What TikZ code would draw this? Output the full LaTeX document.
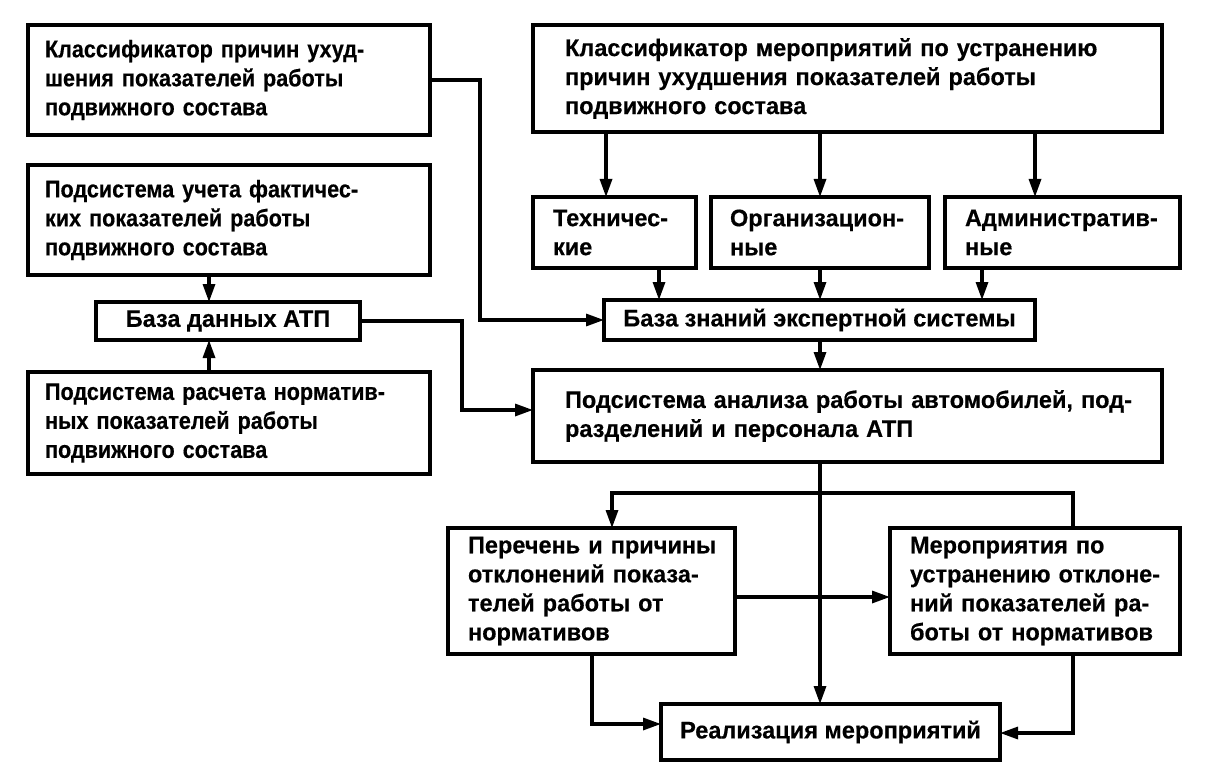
\documentclass[tikz,border=0pt]{standalone}
\usepackage{fontspec}
\setmainfont{Liberation Sans}[BoldFeatures={FakeBold=0.4}]
\newfontfamily\fontL{Liberation Sans}[FakeStretch=0.90, BoldFeatures={FakeBold=0.4}]
\newfontfamily\fontR{Liberation Sans}[FakeStretch=0.98, BoldFeatures={FakeBold=0.4}]
\usetikzlibrary{arrows.meta,calc}
\begin{document}
\begin{tikzpicture}[x=1pt,y=-1pt,
  box/.style={draw, line width=3.4pt, anchor=north west, outer sep=0pt,
    inner ysep=0pt, align=left, font=\fontR\fontsize{24}{29}\selectfont\bfseries},
  lbox/.style={box, font=\fontL\fontsize{24}{29}\selectfont\bfseries},
  cbox/.style={draw, line width=3.4pt, anchor=north west, outer sep=0pt,
    inner sep=0pt, align=center, font=\fontR\fontsize{24}{29}\selectfont\bfseries},
  arr/.style={line width=3.2pt, -{Triangle[length=18pt,width=12pt]}},
  ln/.style={line width=3.2pt}]
\fill[white] (0,0) rectangle (1223,770);
\useasboundingbox (0,0) rectangle (1223,770);

% left column
\node[lbox, minimum width=402pt, minimum height=110pt, text width=368pt, inner xsep=17pt] (A) at (28,25)
  {\mbox{Классификатор причин ухуд-}\\\mbox{шения показателей работы}\\\mbox{подвижного состава}};
\node[lbox, minimum width=402pt, minimum height=110pt, text width=368pt, inner xsep=17pt] (B) at (28,165)
  {\mbox{Подсистема учета фактичес-}\\\mbox{ких показателей работы}\\\mbox{подвижного состава}};
\node[cbox, minimum width=264pt, minimum height=38pt] (DB) at (96,302) {База данных АТП};
\node[lbox, minimum width=402pt, minimum height=102pt, text width=368pt, inner xsep=17pt] (D) at (28,372)
  {\mbox{Подсистема расчета норматив-}\\\mbox{ных показателей работы}\\\mbox{подвижного состава}};

% right column
\node[box, minimum width=629pt, minimum height=107pt, text width=565pt, inner xsep=32pt] (C) at (533,25)
  {\mbox{Классификатор мероприятий по устранению}\\\mbox{причин ухудшения показателей работы}\\\mbox{подвижного состава}};
\node[box, minimum width=163pt, minimum height=71pt, text width=123pt, inner xsep=20pt] (T) at (533,197)
  {\mbox{Техничес-}\\\mbox{кие}};
\node[box, minimum width=218pt, minimum height=71pt, text width=180pt, inner xsep=19pt] (O) at (711,197)
  {\mbox{Организацион-}\\\mbox{ные}};
\node[box, minimum width=235pt, minimum height=71pt, text width=195pt, inner xsep=20pt] (Adm) at (945,197)
  {\mbox{Административ-}\\\mbox{ные}};
\node[cbox, minimum width=431pt, minimum height=40pt] (KB) at (604,300) {База знаний экспертной системы};
\node[box, minimum width=629pt, minimum height=92pt, text width=565pt, inner xsep=32pt] (E) at (533,370)
  {\mbox{Подсистема анализа работы автомобилей, под-}\\\mbox{разделений и персонала АТП}};
\node[box, minimum width=287pt, minimum height=126pt, text width=247pt, inner xsep=20pt] (P) at (448,528)
  {\mbox{Перечень и причины}\\\mbox{отклонений показа-}\\\mbox{телей работы от}\\\mbox{нормативов}};
\node[box, minimum width=290pt, minimum height=126pt, text width=250pt, inner xsep=20pt] (M) at (890,528)
  {\mbox{Мероприятия по}\\\mbox{устранению отклоне-}\\\mbox{ний показателей ра-}\\\mbox{боты от нормативов}};
\node[cbox, minimum width=339pt, minimum height=56pt] (R) at (661,704) {Реализация мероприятий};

% helper coordinates
\coordinate (j1) at (480,0);
\coordinate (j2) at (462,410);
\coordinate (d1) at (209,0);
\coordinate (c1) at (606,0);
\coordinate (c2) at (820,0);
\coordinate (c3) at (1035,0);
\coordinate (k1) at (659,0);
\coordinate (k3) at (982,0);
\coordinate (sp) at (820,493);
\coordinate (pl) at (612,0);
\coordinate (mr) at (1073,0);
\coordinate (pb) at (592,0);
\coordinate (h1) at (0,597);
\coordinate (rl) at (0,724);
\coordinate (rr) at (0,733);

% connectors
\draw[arr] (A.east) -| (j1 |- KB.west) -- (KB.west);
\draw[arr] (B.south -| d1) -- (DB.north -| d1);
\draw[arr] (D.north -| d1) -- (DB.south -| d1);
\draw[arr] (DB.east) -| (j2) -- (E.west |- j2);

\draw[arr] (C.south -| c1) -- (T.north -| c1);
\draw[arr] (C.south -| c2) -- (O.north -| c2);
\draw[arr] (C.south -| c3) -- (Adm.north -| c3);
\draw[arr] (T.south -| k1) -- (KB.north -| k1);
\draw[arr] (O.south -| c2) -- (KB.north -| c2);
\draw[arr] (Adm.south -| k3) -- (KB.north -| k3);
\draw[arr] (KB.south -| c2) -- (E.north -| c2);

\draw[arr] (E.south -| c2) -- (R.north -| c2);
\draw[arr] (sp) -| (P.north -| pl);
\draw[ln] (sp) -| (M.north -| mr);
\draw[arr] (P.east |- h1) -- (M.west |- h1);
\draw[arr] (P.south -| pb) |- (R.west |- rl);
\draw[arr] (M.south -| mr) |- (R.east |- rr);
\end{tikzpicture}
\end{document}
